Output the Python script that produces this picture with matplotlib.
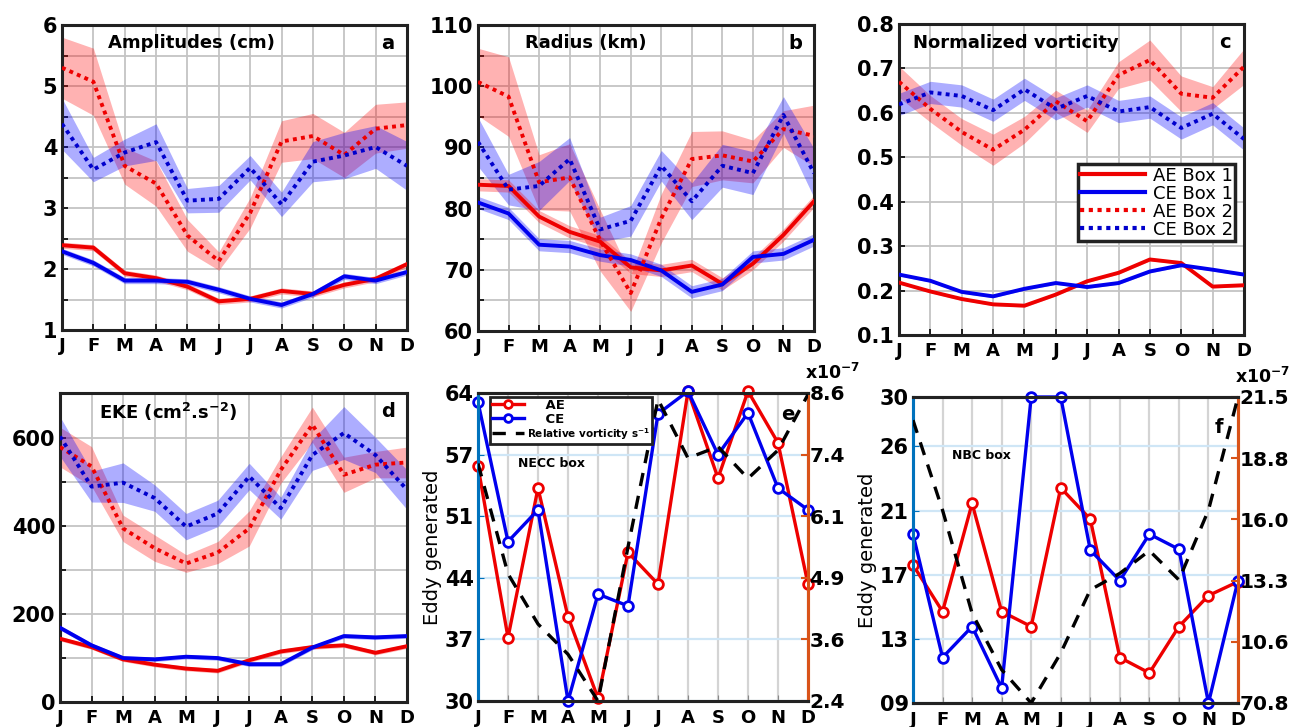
import matplotlib
matplotlib.use("Agg")
import matplotlib.pyplot as plt
from matplotlib.lines import Line2D

plt.rcParams["font.family"] = "DejaVu Sans"
plt.rcParams["font.weight"] = "bold"
plt.rcParams["mathtext.default"] = "bf"

months = ["J", "F", "M", "A", "M", "J", "J", "A", "S", "O", "N", "D"]
x = list(range(12))

# (a) amplitudes (cm)
amp_ae1 = [2.39, 2.35, 1.93, 1.85, 1.71, 1.47, 1.51, 1.64, 1.59, 1.74, 1.84, 2.08]
amp_ce1 = [2.29, 2.10, 1.81, 1.81, 1.79, 1.66, 1.51, 1.41, 1.59, 1.88, 1.81, 1.95]
amp_ae2 = [5.30, 5.07, 3.69, 3.40, 2.55, 2.13, 2.92, 4.09, 4.18, 3.87, 4.30, 4.36]
amp_ce2 = [4.38, 3.63, 3.91, 4.08, 3.12, 3.15, 3.66, 3.06, 3.76, 3.86, 4.00, 3.69]
amp_ae2_err = [0.50, 0.55, 0.30, 0.37, 0.26, 0.15, 0.25, 0.34, 0.37, 0.37, 0.40, 0.38]
amp_ce2_err = [0.42, 0.20, 0.22, 0.30, 0.20, 0.22, 0.20, 0.20, 0.33, 0.38, 0.35, 0.40]
amp_box1_err = [0.05] * 12

# (b) radius (km)
rad_ae1 = [83.9, 83.7, 78.7, 76.2, 74.6, 70.4, 69.9, 70.7, 67.7, 71.0, 75.7, 81.2]
rad_ce1 = [81.0, 79.2, 74.1, 73.8, 72.4, 71.6, 69.9, 66.4, 67.6, 72.1, 72.6, 74.9]
rad_ae2 = [100.7, 98.3, 84.3, 85.1, 74.8, 66.2, 78.4, 88.1, 88.7, 87.7, 93.0, 91.9]
rad_ce2 = [90.9, 83.1, 83.7, 88.1, 76.6, 78.0, 87.0, 81.2, 87.0, 85.8, 95.3, 85.8]
rad_ae2_err = [5.5, 6.5, 4.5, 5.5, 5.0, 3.0, 4.0, 4.5, 4.0, 3.5, 3.0, 5.0]
rad_ce2_err = [4.0, 2.5, 4.0, 3.5, 2.0, 2.5, 2.5, 3.0, 3.5, 3.5, 3.0, 4.0]
rad_box1_err = [1.0] * 12

# (c) normalized vorticity
vor_ae1 = [0.218, 0.198, 0.181, 0.169, 0.166, 0.191, 0.221, 0.240, 0.270, 0.262, 0.209, 0.212]
vor_ce1 = [0.236, 0.222, 0.197, 0.187, 0.204, 0.217, 0.208, 0.217, 0.243, 0.257, 0.247, 0.236]
vor_ae2 = [0.670, 0.609, 0.557, 0.517, 0.562, 0.626, 0.581, 0.685, 0.719, 0.643, 0.634, 0.704]
vor_ce2 = [0.619, 0.646, 0.638, 0.606, 0.653, 0.609, 0.638, 0.603, 0.613, 0.566, 0.598, 0.541]
vor_ae2_err = [0.035, 0.030, 0.030, 0.035, 0.030, 0.025, 0.025, 0.030, 0.045, 0.040, 0.025, 0.040]
vor_ce2_err = [0.025] * 12
vor_box1_err = [0.003] * 12

# (d) EKE (cm2 s-2)
eke_ae1 = [144, 125, 97, 85, 76, 71, 95, 115, 125, 129, 112, 127]
eke_ce1 = [169, 129, 100, 97, 103, 100, 86, 86, 124, 150, 147, 150]
eke_ae2 = [580, 536, 395, 350, 315, 340, 395, 528, 631, 517, 540, 545]
eke_ce2 = [604, 490, 499, 464, 399, 429, 513, 441, 562, 612, 562, 483]
eke_ae2_err = [45, 45, 30, 30, 20, 25, 40, 30, 40, 40, 30, 35]
eke_ce2_err = [45, 35, 45, 30, 30, 30, 30, 25, 35, 60, 40, 45]
eke_box1_err = [5] * 12

# (e) NECC box: eddies generated + relative vorticity
necc_ae = [55.9, 37.0, 53.5, 39.3, 30.3, 46.4, 42.9, 64.2, 54.6, 64.2, 58.5, 42.9]
necc_ce = [63.0, 47.6, 51.1, 30.0, 41.8, 40.5, 61.7, 64.2, 57.2, 61.8, 53.5, 51.1]
necc_vort = [7.18, 4.96, 3.95, 3.34, 2.40, 5.50, 8.47, 7.29, 7.52, 6.88, 7.45, 8.57]
necc_left_labels = ["30", "37", "44", "51", "57", "64"]
necc_right_labels = ["2.4", "3.6", "4.9", "6.1", "7.4", "8.6"]

# (f) NBC box
nbc_ae = [17.65, 14.73, 21.5, 14.73, 13.79, 22.48, 20.52, 11.85, 10.88, 13.79, 15.73, 16.6]
nbc_ce = [19.58, 11.85, 13.79, 9.94, 28.17, 28.17, 18.58, 16.67, 19.58, 18.63, 9.0, 16.67]
nbc_vort = [20.47, 16.47, 11.89, 9.38, 7.90, 10.12, 12.93, 13.66, 14.67, 13.37, 16.47, 21.5]
nbc_left_labels = ["09", "13", "17", "21", "26", "30"]
nbc_right_labels = ["70.8", "10.6", "13.3", "16.0", "18.8", "21.5"]

W, H = 1290, 727
fig = plt.figure(figsize=(W / 100, H / 100), dpi=100)


def rect(x0, y0, x1, y1):
    return [x0 / W, 1 - y1 / H, (x1 - x0) / W, (y1 - y0) / H]


def band(ax, vals, err, color, alpha):
    lo = [v - e for v, e in zip(vals, err)]
    hi = [v + e for v, e in zip(vals, err)]
    ax.fill_between(x, lo, hi, color=color, alpha=alpha, lw=0, zorder=2)


def clim_panel(box, ae1, ce1, ae2, ce2, ae2_err, ce2_err, b1_err,
               ylim, yticks, minor, title, tx, letter):
    ax = fig.add_axes(rect(*box))
    band(ax, ae2, ae2_err, "red", 0.3)
    band(ax, ce2, ce2_err, "blue", 0.32)
    band(ax, ae1, b1_err, "red", 0.3)
    band(ax, ce1, b1_err, "blue", 0.32)
    dot = (0, (1, 1.1))
    ax.plot(x, ae1, color="#ee0000", lw=2.8, zorder=4)
    ax.plot(x, ce1, color="#0000ee", lw=2.8, zorder=4)
    ax.plot(x, ae2, color="#ee0000", lw=2.8, ls=dot, zorder=4)
    ax.plot(x, ce2, color="#0000cc", lw=2.8, ls=dot, zorder=4)
    ax.set_xlim(0, 11)
    ax.set_ylim(*ylim)
    ax.set_xticks(x)
    ax.set_xticklabels(months)
    ax.set_yticks(yticks)
    if minor:
        ax.set_yticks(minor, minor=True)
    ax.grid(True, which="both", color="#c4c4c4", lw=1.3, zorder=0)
    ax.set_axisbelow(True)
    ax.tick_params(axis="both", which="both", direction="in", length=4,
                   labelsize=15, width=1.2)
    ax.tick_params(axis="x", pad=5, labelsize=13)
    for s in ax.spines.values():
        s.set_linewidth(2.2)
        s.set_color("#222222")
    ax.text(tx, 0.94, title, transform=ax.transAxes, fontsize=13,
            va="center", ha="left", zorder=6)
    ax.text(0.945, 0.94, letter, transform=ax.transAxes, fontsize=14,
            va="center", ha="center", zorder=6)
    return ax


clim_panel((62, 25, 407, 330), amp_ae1, amp_ce1, amp_ae2, amp_ce2,
           amp_ae2_err, amp_ce2_err, amp_box1_err,
           (1, 6), [1, 2, 3, 4, 5, 6], [1.5, 2.5, 3.5, 4.5, 5.5],
           "Amplitudes (cm)", 0.133, "a")
clim_panel((478, 25, 814, 331), rad_ae1, rad_ce1, rad_ae2, rad_ce2,
           rad_ae2_err, rad_ce2_err, rad_box1_err,
           (60, 110), [60, 70, 80, 90, 100, 110], [65, 75, 85, 95, 105],
           "Radius (km)", 0.14, "b")
axc = clim_panel((899, 24, 1244, 335), vor_ae1, vor_ce1, vor_ae2, vor_ce2,
                 vor_ae2_err, vor_ce2_err, vor_box1_err,
                 (0.1, 0.8), [0.1, 0.2, 0.3, 0.4, 0.5, 0.6, 0.7, 0.8], None,
                 "Normalized vorticity", 0.04, "c")
clim_panel((60, 393, 407, 702), eke_ae1, eke_ce1, eke_ae2, eke_ce2,
           eke_ae2_err, eke_ce2_err, eke_box1_err,
           (0, 703), [0, 200, 400, 600], [100, 300, 500, 700],
           r"EKE (cm$^2$.s$^{-2}$)", 0.112, "d")

handles = [
    Line2D([], [], color="#ee0000", lw=3),
    Line2D([], [], color="#0000ee", lw=3),
    Line2D([], [], color="#ee0000", lw=3, ls=(0, (1, 1.1))),
    Line2D([], [], color="#0000cc", lw=3, ls=(0, (1, 1.1))),
]
leg = axc.legend(handles, ["AE Box 1", "CE Box 1", "AE Box 2", "CE Box 2"],
                 loc="upper right", bbox_to_anchor=(0.975, 0.55),
                 fancybox=False, framealpha=1, edgecolor="#222222",
                 prop={"weight": "normal", "size": 13}, handlelength=3.6,
                 borderpad=0.15, labelspacing=0.0, handletextpad=0.4,
                 borderaxespad=0)
leg.get_frame().set_linewidth(2.5)
leg.set_zorder(10)

LBLUE = "#0072BD"
ORANGE = "#D95319"


def eddy_panel(box, ae, ce, vort, lylim, lticks, llabels, rylim, rlabels,
               boxname, bx, by, letter, lx, ly):
    ax = fig.add_axes(rect(*box))
    ax2 = ax.twinx()
    ax.plot(x, ae, color="#ee0000", lw=2.4, marker="o", ms=7, mfc="white",
            mew=2, zorder=4, clip_on=False, label="AE")
    ax.plot(x, ce, color="#0000ee", lw=2.4, marker="o", ms=7, mfc="white",
            mew=2, zorder=4, clip_on=False, label="CE")
    ax2.plot(x, vort, color="black", lw=2.4, ls=(0, (4, 3)), zorder=3,
             label=r"Relative vorticity s$^{-1}$")
    ax.set_xlim(0, 11)
    ax.set_ylim(*lylim)
    ax.set_xticks(x)
    ax.set_xticklabels(months)
    ax.set_yticks(lticks)
    ax.set_yticklabels(llabels)
    rticks = [rylim[0] + i * (rylim[1] - rylim[0]) / 5 for i in range(6)]
    ax2.set_ylim(*rylim)
    ax2.set_yticks(rticks)
    ax2.set_yticklabels(rlabels)
    ax.xaxis.grid(True, color="#d4d4d4", lw=1.6)
    ax.yaxis.grid(True, color="#cfe6f6", lw=1.6)
    ax.set_axisbelow(True)
    ax.tick_params(axis="both", direction="in", length=4, labelsize=15,
                   color=LBLUE, pad=3)
    ax.tick_params(axis="x", labelsize=13, pad=6, color="#888888")
    ax2.tick_params(axis="y", direction="in", length=5, width=1.5,
                    labelsize=14.5, color=ORANGE, pad=1)
    for a in (ax, ax2):
        a.spines["top"].set_color("#222222")
        a.spines["bottom"].set_color("#222222")
        a.spines["left"].set_color(LBLUE)
        a.spines["right"].set_color(ORANGE)
        for s in a.spines.values():
            s.set_linewidth(2.2)
    ax.set_ylabel("Eddy generated", fontsize=14, labelpad=2)
    ax2.text(0.99, 1.065, r"x10$^{-7}$", transform=ax2.transAxes,
             fontsize=12.5, ha="left", va="center")
    ax2.text(bx, by, boxname, transform=ax2.transAxes, fontsize=9,
             ha="left", va="center")
    ax2.text(lx, ly, letter, transform=ax2.transAxes, fontsize=14,
             ha="center", va="center")
    return ax, ax2


axe, axe2 = eddy_panel((478, 393, 808, 701), necc_ae, necc_ce, necc_vort,
                       (30, 64), [30, 36.8, 43.6, 50.4, 57.2, 64],
                       necc_left_labels, (2.4, 8.6), necc_right_labels,
                       "NECC box", 0.12, 0.77, "e", 0.94, 0.93)
eddy_panel((913, 397, 1238, 703), nbc_ae, nbc_ce, nbc_vort,
           (9, 28.17), [9, 13, 17, 21, 25.08, 28.17], nbc_left_labels,
           (7.9, 21.5), nbc_right_labels,
           "NBC box", 0.12, 0.81, "f", 0.94, 0.9)

h1, l1 = axe.get_legend_handles_labels()
h2, l2 = axe2.get_legend_handles_labels()
lege = axe2.legend(h1 + h2, ["    AE", "    CE", l2[0]], loc="upper left",
                   bbox_to_anchor=(0.036, 0.987), fancybox=False,
                   framealpha=1, edgecolor="#222222",
                   prop={"weight": "bold", "size": 9.5}, handlelength=2.4,
                   borderpad=0.15, labelspacing=0.05, handletextpad=0.3,
                   borderaxespad=0, markerscale=0.8)
lege.get_frame().set_linewidth(2)
lege.get_texts()[2].set_fontsize(7.5)
lege.get_texts()[2].set_family(["Liberation Sans Narrow", "DejaVu Sans"])

fig.savefig("out.png", dpi=100)
